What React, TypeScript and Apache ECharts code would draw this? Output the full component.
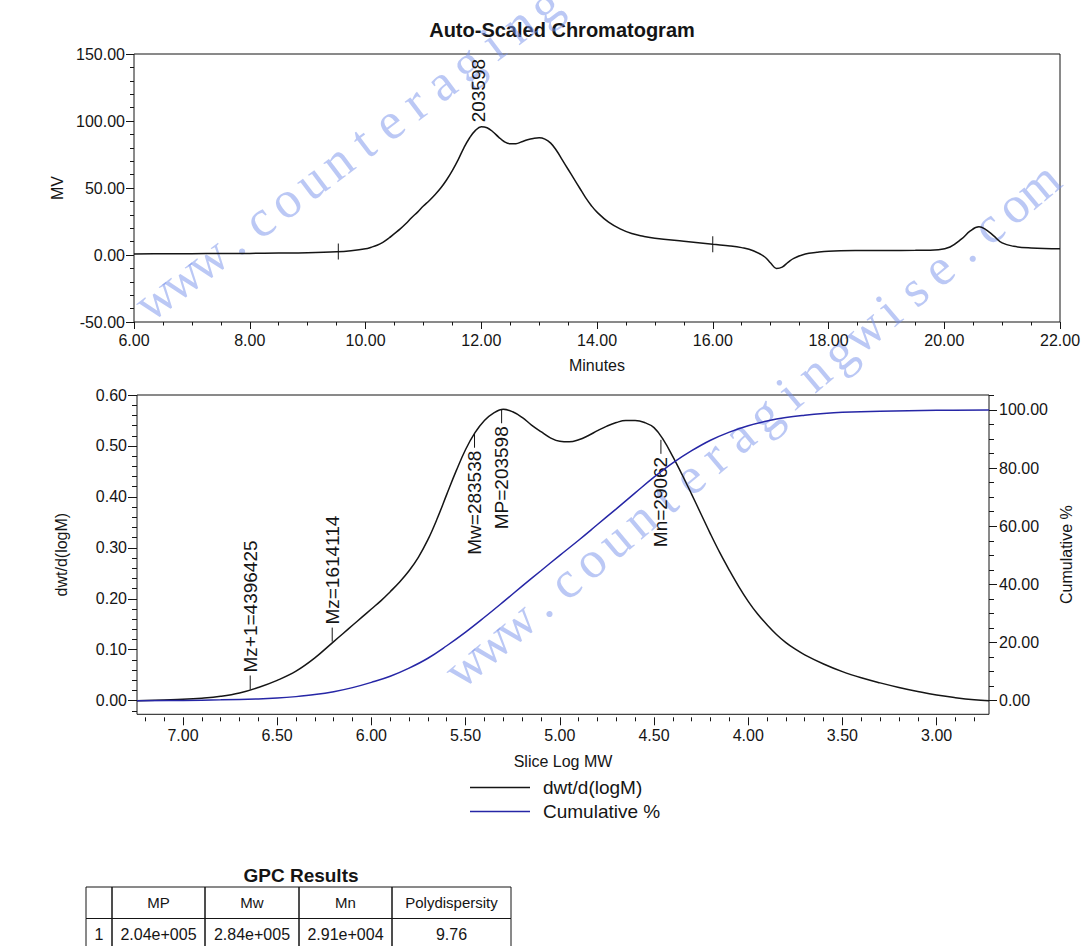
import React, { useEffect, useRef } from "react";
import * as echarts from "echarts";

const FONT = '"Liberation Sans", Arial, Helvetica, sans-serif';
const INK = "#151515";
const BLUE = "#2626a6";

// ---------- Top chart: Auto-Scaled Chromatogram ----------
const minutes = [
  6.0, 6.5, 7.0, 7.5, 8.0, 8.5, 9.0, 9.5, 9.75, 10.0, 10.1, 10.2, 10.3, 10.4, 10.5, 10.6, 10.7, 10.8,
  10.9, 11.0, 11.1, 11.2, 11.3, 11.4, 11.5, 11.6, 11.7, 11.8, 11.9, 12.0, 12.1, 12.2, 12.3, 12.4, 12.5,
  12.6, 12.7, 12.8, 12.9, 13.0, 13.1, 13.2, 13.3, 13.4, 13.5, 13.6, 13.7, 13.8, 13.9, 14.0, 14.2, 14.4,
  14.6, 14.8, 15.0, 15.5, 16.0, 16.3, 16.5, 16.7, 16.9, 17.0, 17.1, 17.2, 17.3, 17.4, 17.6, 17.8, 18.0,
  18.5, 19.0, 19.5, 19.9, 20.1, 20.3, 20.45, 20.6, 20.7, 20.85, 21.0, 21.2, 21.5, 22.0,
];
const mv = [
  0.8, 0.9, 1.0, 1.1, 1.2, 1.4, 1.7, 2.4, 3.2, 4.6, 5.8, 7.3, 9.5, 12.5, 16, 19.5, 23.5, 28,
  32, 36.5, 40.5, 45, 50, 56, 63, 71, 80, 87.5, 93, 95.8, 95, 92, 88, 84.5, 83,
  83, 84.5, 86, 87, 87.5, 86.5, 83.5, 78, 71, 64, 57, 50, 43, 37, 32, 24.5, 19.5,
  16, 14, 12.5, 10.2, 8, 6.8, 5.5, 3.2, -1.5, -6, -10, -9, -5.5, -2.5, 0.8, 2, 2.8,
  3.3, 3.4, 3.5, 4, 6, 12, 18, 21, 19.5, 14.5, 9, 6.5, 5.3, 4.6,
];
// integration boundary marks (minutes, mV)
const chromMarkX = [9.53, 16.0];
const chromMarkY = [2.6, 8.0];
// peak label
const peakLabelX = [11.95];
const peakLabelY = [96];
const peakLabelText = ["203598"];

// ---------- Bottom chart: MW distribution ----------
const logMW = [
  7.244, 7.1, 7.0, 6.9, 6.8, 6.7, 6.6, 6.5, 6.4, 6.3, 6.2, 6.15, 6.1, 6.05, 6.0, 5.95, 5.9, 5.85,
  5.8, 5.75, 5.7, 5.65, 5.6, 5.55, 5.5, 5.45, 5.4, 5.35, 5.3, 5.25, 5.2, 5.15, 5.1, 5.05, 5.0, 4.95,
  4.9, 4.85, 4.8, 4.75, 4.7, 4.65, 4.6, 4.55, 4.5, 4.45, 4.4, 4.35, 4.3, 4.25, 4.2, 4.15, 4.1, 4.05,
  4.0, 3.95, 3.9, 3.85, 3.8, 3.75, 3.7, 3.6, 3.5, 3.4, 3.3, 3.2, 3.1, 3.0, 2.9, 2.8, 2.722,
];
const dwt = [
  0.0, 0.0015, 0.0026, 0.0048, 0.0085, 0.015, 0.026, 0.04, 0.058, 0.084, 0.116, 0.132, 0.148, 0.164,
  0.18, 0.196, 0.214, 0.233, 0.255, 0.282, 0.316, 0.358, 0.405, 0.451, 0.493, 0.526, 0.55, 0.565,
  0.572, 0.567, 0.556, 0.541, 0.528, 0.516, 0.509, 0.508, 0.512, 0.52, 0.53, 0.539, 0.546, 0.55,
  0.55, 0.546, 0.536, 0.512, 0.479, 0.443, 0.405, 0.366, 0.327, 0.29, 0.256, 0.224, 0.195, 0.17,
  0.149, 0.13, 0.114, 0.101, 0.09, 0.072, 0.057, 0.045, 0.035, 0.026, 0.018, 0.011, 0.006, 0.002, 0.0,
];
const cumLogMW = [
  7.244, 7.0, 6.8, 6.6, 6.5, 6.4, 6.3, 6.2, 6.1, 6.0, 5.9, 5.8, 5.7, 5.6, 5.5, 5.4, 5.3, 5.2, 5.1,
  5.0, 4.9, 4.8, 4.7, 4.6, 4.5, 4.4, 4.3, 4.2, 4.1, 4.0, 3.9, 3.8, 3.7, 3.6, 3.5, 3.3, 3.0, 2.722,
];
const cumulative = [
  0, 0.1, 0.3, 0.6, 0.9, 1.4, 2.1, 3.1, 4.5, 6.3, 8.4, 11.2, 14.6, 18.9, 23.6, 28.7, 34.0, 39.4, 44.7,
  50.0, 55.2, 60.6, 66.0, 71.5, 76.9, 81.8, 86.0, 89.6, 92.4, 94.6, 96.2, 97.4, 98.2, 98.8, 99.2,
  99.6, 99.9, 100,
];
// molecular-weight averages marked on the distribution
const mwLabelNames = ["Mz+1", "Mz", "Mw", "MP", "Mn"];
const mwLabelValues = [4396425, 1614114, 283538, 203598, 29062];
const mwLabelCurveY = [0.022, 0.116, 0.524, 0.572, 0.512];
const mwLabelSide = [1, 1, -1, -1, -1]; // 1 above the curve, -1 below

const legendNames = ["dwt/d(logM)", "Cumulative %"];

// tick positions (bottom chart)
const sliceMajor = [3.0, 3.5, 4.0, 4.5, 5.0, 5.5, 6.0, 6.5, 7.0];
const sliceMinor = [
  2.8, 2.9, 3.1, 3.2, 3.3, 3.4, 3.6, 3.7, 3.8, 3.9, 4.1, 4.2, 4.3, 4.4, 4.6, 4.7, 4.8, 4.9,
  5.1, 5.2, 5.3, 5.4, 5.6, 5.7, 5.8, 5.9, 6.1, 6.2, 6.3, 6.4, 6.6, 6.7, 6.8, 6.9, 7.1, 7.2,
];
const dwtMajor = [0, 0.1, 0.2, 0.3, 0.4, 0.5, 0.6];
const dwtMinor = [
  -0.02, 0.02, 0.04, 0.06, 0.08, 0.12, 0.14, 0.16, 0.18, 0.22, 0.24, 0.26, 0.28, 0.32, 0.34, 0.36,
  0.38, 0.42, 0.44, 0.46, 0.48, 0.52, 0.54, 0.56, 0.58,
];
const cumMajor = [0, 20, 40, 60, 80, 100];
const cumMinor = [5, 10, 15, 25, 30, 35, 45, 50, 55, 65, 70, 75, 85, 90, 95, 105];

// ---------- Results table ----------
const tableTitle = "GPC Results";
const tableHeader = ["", "MP", "Mw", "Mn", "Polydispersity"];
const tableRow = ["1", "2.04e+005", "2.84e+005", "2.91e+004", "9.76"];

const watermarkText = "www.counteragingwise.com";

const fmt2 = (v: number) => Number(v).toFixed(2);

function buildOption(): any {
  const labelStyle = { fontSize: 16, fontFamily: FONT, color: INK };
  const nameStyle = { fontSize: 16, fontFamily: FONT, color: INK };
  const tickLine = { color: INK, width: 1 };
  const noLine = { show: false, onZero: false };

  const topData = minutes.map((m, i) => [m, mv[i]]);
  const dwtData = logMW.map((x, i) => [x, dwt[i]]);
  const cumData = cumLogMW.map((x, i) => [x, cumulative[i]]);
  const markData = chromMarkX.map((x, i) => [x, chromMarkY[i]]);
  const peakData = peakLabelX.map((x, i) => [x, peakLabelY[i]]);
  const mwData = mwLabelValues.map((v, i) => [Math.log10(v), mwLabelCurveY[i]]);

  const textEl = (x: number, y: number, text: string, side: number, lineLen: number, gap: number) => {
    const children: any[] = [];
    if (lineLen > 0) {
      children.push({
        type: "line",
        shape: { x1: x, y1: y, x2: x, y2: y - side * lineLen },
        style: { stroke: INK, lineWidth: 1 },
      });
    }
    children.push({
      type: "text",
      x: x,
      y: y - side * (lineLen + gap),
      rotation: Math.PI / 2,
      style: {
        text,
        fontSize: 19,
        fontFamily: FONT,
        fill: INK,
        align: side > 0 ? "left" : "right",
        verticalAlign: "middle",
      },
    });
    return { type: "group", children };
  };

  // table graphics
  const colX = [86, 112, 205, 299, 392, 511];
  const rowY = [887, 918.5, 950];
  const tableEls: any[] = [];
  [tableHeader, tableRow].forEach((row, r) => {
    row.forEach((txt, c) => {
      tableEls.push({
        type: "rect",
        shape: { x: colX[c], y: rowY[r], width: colX[c + 1] - colX[c], height: rowY[r + 1] - rowY[r] },
        style: { fill: "transparent", stroke: INK, lineWidth: 1 },
      });
      if (txt) {
        tableEls.push({
          type: "text",
          x: (colX[c] + colX[c + 1]) / 2,
          y: (rowY[r] + rowY[r + 1]) / 2,
          style: {
            text: txt,
            fontSize: r === 0 ? 15 : 16,
            fontFamily: FONT,
            fill: INK,
            align: "center",
            verticalAlign: "middle",
          },
        });
      }
    });
  });

  const watermark = (x: number, y: number, deg: number, step: number, count: number) => ({
    type: "group",
    x,
    y,
    rotation: (deg * Math.PI) / 180,
    silent: true,
    z: 50,
    children: watermarkText
      .split("")
      .slice(0, count)
      .map((ch, i) => ({
        type: "text",
        x: i * step,
        y: 0,
        style: {
          text: ch,
          fontSize: 52,
          fontFamily: '"Liberation Serif", "DejaVu Serif", serif',
          fill: "rgba(120,145,235,0.5)",
          align: "center",
          verticalAlign: "middle",
        },
      })),
  });

  const lineSmooth = { symbol: "none", smooth: 0.4 };

  return {
    animation: false,
    backgroundColor: "#ffffff",
    grid: [
      { left: 134, top: 54, width: 926, height: 268, show: true, borderColor: INK, borderWidth: 1, backgroundColor: "transparent" },
      { left: 137, top: 395, width: 852, height: 319.3, show: true, borderColor: INK, borderWidth: 1, backgroundColor: "transparent" },
    ],
    legend: {
      data: legendNames,
      orient: "vertical",
      left: 465,
      top: 773,
      icon: "rect",
      itemWidth: 60,
      itemHeight: 1.4,
      itemGap: 5,
      selectedMode: false,
      textStyle: { fontSize: 19, fontFamily: FONT, color: INK, padding: [0, 0, 0, 8] },
    },
    xAxis: [
      {
        gridIndex: 0,
        type: "value",
        min: 6,
        max: 22,
        interval: 2,
        axisLine: noLine,
        axisTick: { show: true, length: 7, lineStyle: tickLine },
        minorTick: { show: true, splitNumber: 4, length: 3.5, lineStyle: tickLine },
        splitLine: { show: false },
        minorSplitLine: { show: false },
        axisLabel: { ...labelStyle, margin: 10, formatter: fmt2 },
        name: "Minutes",
        nameLocation: "middle",
        nameGap: 35,
        nameTextStyle: nameStyle,
      },
      {
        gridIndex: 1,
        type: "value",
        inverse: true,
        min: 2.722,
        max: 7.244,
        position: "bottom",
        offset: 3,
        axisLine: noLine,
        axisTick: { show: true, length: 8, lineStyle: tickLine, customValues: sliceMajor },
        axisLabel: { ...labelStyle, margin: 10, formatter: fmt2, customValues: sliceMajor },
        splitLine: { show: false },
        name: "Slice Log MW",
        nameLocation: "middle",
        nameGap: 36,
        nameTextStyle: nameStyle,
      },
      {
        gridIndex: 1,
        type: "value",
        inverse: true,
        min: 2.722,
        max: 7.244,
        position: "bottom",
        offset: 3,
        axisLine: noLine,
        axisTick: { show: true, length: 4, lineStyle: tickLine, customValues: sliceMinor },
        axisLabel: { show: false },
        splitLine: { show: false },
      },
    ],
    yAxis: [
      {
        gridIndex: 0,
        type: "value",
        min: -50,
        max: 150,
        interval: 50,
        axisLine: noLine,
        axisTick: { show: true, length: 8, lineStyle: tickLine },
        minorTick: { show: true, splitNumber: 5, length: 4, lineStyle: tickLine },
        splitLine: { show: false },
        minorSplitLine: { show: false },
        axisLabel: { ...labelStyle, margin: 9, formatter: fmt2 },
        name: "MV",
        nameLocation: "middle",
        nameRotate: 90,
        nameGap: 69,
        nameTextStyle: nameStyle,
      },
      {
        gridIndex: 1,
        type: "value",
        min: -0.0267,
        max: 0.6,
        position: "left",
        axisLine: noLine,
        axisTick: { show: true, length: 9, lineStyle: tickLine, customValues: dwtMajor },
        axisLabel: { ...labelStyle, margin: 10, formatter: fmt2, customValues: dwtMajor },
        splitLine: { show: false },
        name: "dwt/d(logM)",
        nameLocation: "middle",
        nameRotate: 90,
        nameGap: 68,
        nameTextStyle: nameStyle,
      },
      {
        gridIndex: 1,
        type: "value",
        min: -0.0267,
        max: 0.6,
        position: "left",
        axisLine: noLine,
        axisTick: { show: true, length: 5, lineStyle: tickLine, customValues: dwtMinor },
        axisLabel: { show: false },
        splitLine: { show: false },
      },
      {
        gridIndex: 1,
        type: "value",
        min: -4.68,
        max: 105.16,
        position: "right",
        axisLine: noLine,
        axisTick: { show: true, length: 8, lineStyle: tickLine, customValues: cumMajor },
        axisLabel: { ...labelStyle, margin: 10, formatter: fmt2, customValues: cumMajor },
        splitLine: { show: false },
        name: "Cumulative %",
        nameLocation: "middle",
        nameRotate: 90,
        nameGap: 68,
        nameTextStyle: nameStyle,
      },
      {
        gridIndex: 1,
        type: "value",
        min: -4.68,
        max: 105.16,
        position: "right",
        axisLine: noLine,
        axisTick: { show: true, length: 5, lineStyle: tickLine, customValues: cumMinor },
        axisLabel: { show: false },
        splitLine: { show: false },
      },
    ],
    series: [
      {
        type: "line",
        name: "Chromatogram",
        xAxisIndex: 0,
        yAxisIndex: 0,
        data: topData,
        ...lineSmooth,
        lineStyle: { color: INK, width: 1.5 },
        itemStyle: { color: INK },
      },
      {
        type: "custom",
        name: "marks",
        xAxisIndex: 0,
        yAxisIndex: 0,
        data: markData,
        renderItem: (params: any, api: any) => {
          const p = api.coord([api.value(0), api.value(1)]);
          return {
            type: "line",
            shape: { x1: p[0], y1: p[1] - 8, x2: p[0], y2: p[1] + 8 },
            style: { stroke: INK, lineWidth: 1 },
          };
        },
      },
      {
        type: "custom",
        name: "peak",
        xAxisIndex: 0,
        yAxisIndex: 0,
        data: peakData,
        renderItem: (params: any, api: any) => {
          const p = api.coord([api.value(0), api.value(1)]);
          return textEl(p[0], p[1], peakLabelText[params.dataIndex], 1, 0, 4);
        },
      },
      {
        type: "line",
        name: legendNames[0],
        xAxisIndex: 1,
        yAxisIndex: 1,
        data: dwtData,
        ...lineSmooth,
        lineStyle: { color: INK, width: 1.5 },
        itemStyle: { color: INK },
      },
      {
        type: "line",
        name: legendNames[1],
        xAxisIndex: 1,
        yAxisIndex: 3,
        data: cumData,
        ...lineSmooth,
        lineStyle: { color: BLUE, width: 1.5 },
        itemStyle: { color: BLUE },
      },
      {
        type: "custom",
        name: "mwLabels",
        xAxisIndex: 1,
        yAxisIndex: 1,
        data: mwData,
        renderItem: (params: any, api: any) => {
          const i = params.dataIndex;
          const p = api.coord([api.value(0), api.value(1)]);
          return textEl(
            p[0],
            p[1],
            mwLabelNames[i] + "=" + mwLabelValues[i],
            mwLabelSide[i],
            14,
            3
          );
        },
      },
    ],
    graphic: [
      {
        type: "text",
        x: 562,
        y: 30,
        style: {
          text: "Auto-Scaled Chromatogram",
          fontSize: 20,
          fontWeight: "bold",
          fontFamily: FONT,
          fill: INK,
          align: "center",
          verticalAlign: "middle",
        },
      },
      {
        type: "text",
        x: 301,
        y: 875,
        style: {
          text: tableTitle,
          fontSize: 19,
          fontWeight: "bold",
          fontFamily: FONT,
          fill: INK,
          align: "center",
          verticalAlign: "middle",
        },
      },
      ...tableEls,
      watermark(155, 298, 37, 32.5, 16),
      watermark(465, 665, 40, 32.5, 24),
    ],
  };
}

export default function App() {
  const ref = useRef<HTMLDivElement>(null);
  useEffect(() => {
    if (!ref.current) return;
    const chart = echarts.init(ref.current, null, { renderer: "svg" });
    chart.setOption(buildOption());
    return () => {
      chart.dispose();
    };
  }, []);
  return (
    <div
      ref={ref}
      style={{ position: "fixed", left: 0, top: 0, width: 1089, height: 946, background: "#fff" }}
    />
  );
}
